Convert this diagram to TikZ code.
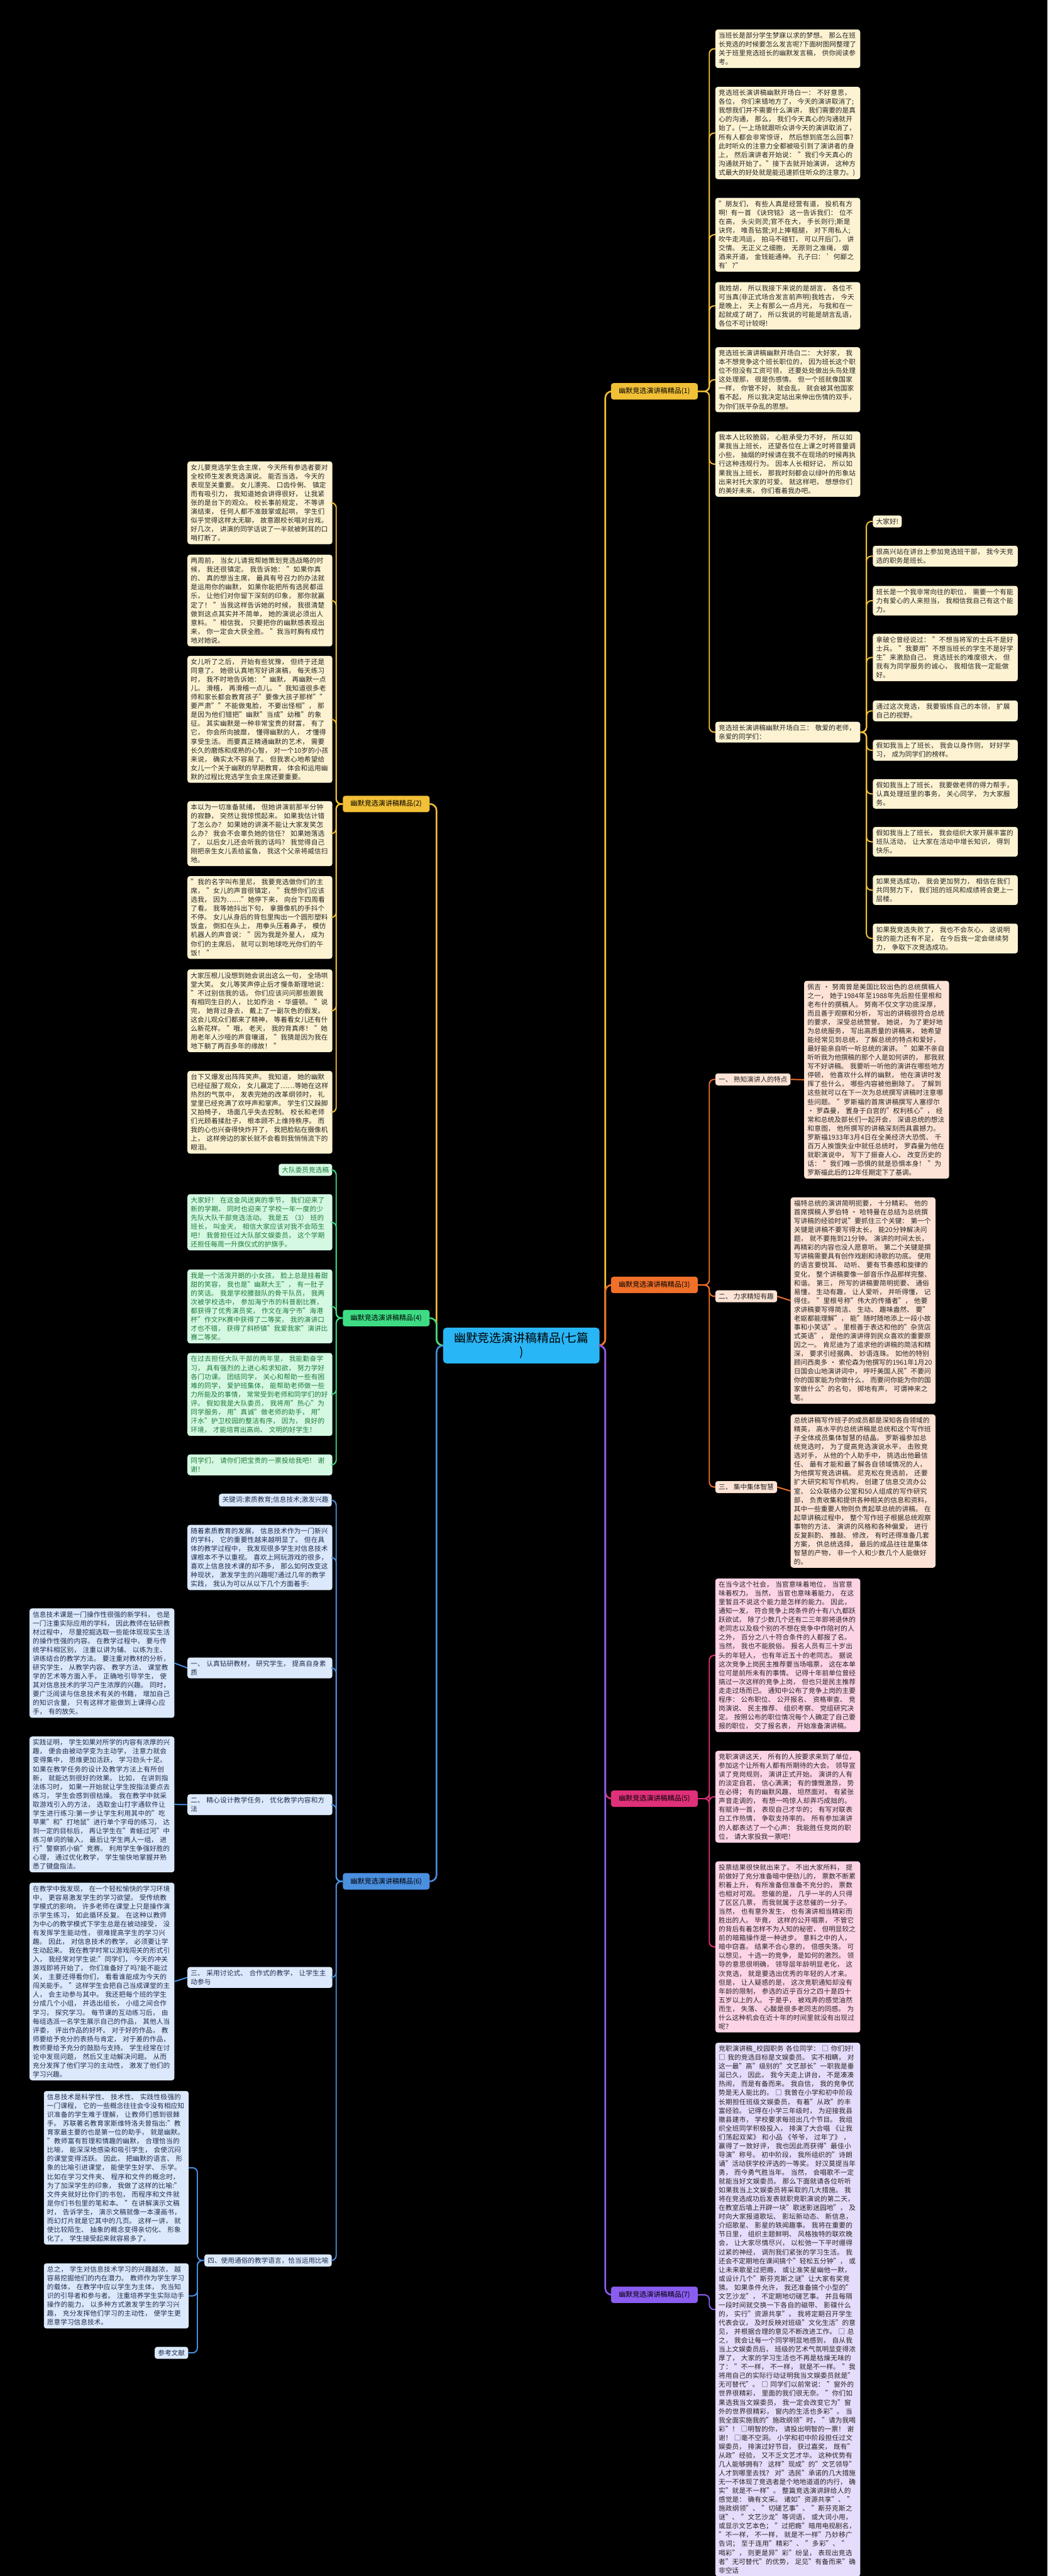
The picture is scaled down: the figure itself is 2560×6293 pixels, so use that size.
\documentclass[tikz,border=0pt]{standalone}
\usepackage{fontspec}
\setmainfont{Noto Sans CJK SC}
\XeTeXlinebreaklocale "zh"
\XeTeXlinebreakskip=0pt plus 1pt
\usepackage{xcolor}
\usetikzlibrary{positioning}

\definecolor{goldline}{HTML}{F2C037}
\definecolor{orangeline}{HTML}{F0702A}
\definecolor{greenline}{HTML}{3DDC84}
\definecolor{pinkline}{HTML}{E0307A}
\definecolor{blueline}{HTML}{4A8FE0}
\definecolor{purpleline}{HTML}{8A5CF0}
\definecolor{goldfill}{HTML}{FDF3D2}
\definecolor{orangefill}{HTML}{FDE3D5}
\definecolor{greenfill}{HTML}{D5F8E2}
\definecolor{pinkfill}{HTML}{FDD3E6}
\definecolor{bluefill}{HTML}{DCE9FC}
\definecolor{purplefill}{HTML}{E6DCFB}
\definecolor{greentext}{HTML}{1E7A3C}
\definecolor{bluetext}{HTML}{1F2D4D}
\definecolor{hubfill}{HTML}{29B6F6}

\begin{document}
\begin{tikzpicture}[x=1pt, y=-1pt,
  leaf/.style={rectangle, rounded corners=6pt, anchor=north west, text width=338pt,
               inner xsep=8pt, inner ysep=7pt, align=left,
               font=\fontsize{16.4}{21.6}\selectfont, text=black!85},
  tag/.style={rectangle, rounded corners=6pt, inner xsep=8pt, inner ysep=7pt,
              font=\fontsize{16.4}{21.6}\selectfont, text=black!85},
  branch/.style={rectangle, rounded corners=6pt, minimum width=212pt, minimum height=40pt,
                 font=\fontsize{17}{20}\selectfont},
  hub/.style={rectangle, rounded corners=8pt, minimum width=382pt, minimum height=87pt,
              align=center, fill=hubfill, font=\fontsize{29}{34}\selectfont},
  link/.style={line width=3pt, rounded corners=12pt},
  mainlink/.style={line width=4pt, rounded corners=16pt}
]
\fill[black] (0,0) rectangle (2560,6293);
\useasboundingbox (0,0) rectangle (2560,6293);

% centre and first level
\node[hub] (center) at (1274,3287) {幽默竞选演讲稿精品(七篇\\)};
\node[branch, fill=goldline, anchor=west] (part1) at (1493,956) {幽默竞选演讲稿精品(1)};
\node[branch, fill=orangeline, anchor=west] (part3) at (1493,3139) {幽默竞选演讲稿精品(3)};
\node[branch, fill=pinkline, anchor=west] (part5) at (1493,4394) {幽默竞选演讲稿精品(5)};
\node[branch, fill=purpleline, anchor=west] (part7) at (1493,5606) {幽默竞选演讲稿精品(7)};
\node[branch, fill=goldline, anchor=east] (part2) at (1050,1964) {幽默竞选演讲稿精品(2)};
\node[branch, fill=greenline, anchor=east] (part4) at (1050,3220) {幽默竞选演讲稿精品(4)};
\node[branch, fill=blueline, anchor=east] (part6) at (1050,4596) {幽默竞选演讲稿精品(6)};

\draw[mainlink, goldline] (center.east) -- ++(14,0) |- (part1.west);
\draw[mainlink, orangeline] (center.east) -- ++(14,0) |- (part3.west);
\draw[mainlink, pinkline] (center.east) -- ++(14,0) |- (part5.west);
\draw[mainlink, purpleline] (center.east) -- ++(14,0) |- (part7.west);
\draw[mainlink, goldline] (center.west) -- ++(-16,0) |- (part2.east);
\draw[mainlink, greenline] (center.west) -- ++(-16,0) |- (part4.east);
\draw[mainlink, blueline] (center.west) -- ++(-16,0) |- (part6.east);

% part 1
\node[leaf, fill=goldfill] (intro) at (1748,72) {当班长是部分学生梦寐以求的梦想。 那么在班长竞选的时候要怎么发言呢?下面树图网整理了关于班里竞选班长的幽默发言稿， 供你阅读参考。};
\node[leaf, fill=goldfill] (opening1) at (1748,212) {竞选班长演讲稿幽默开场白一： 不好意思， 各位， 你们来错地方了， 今天的演讲取消了;我想我们并不需要什么演讲， 我们需要的是真心的沟通， 那么， 我们今天真心的沟通就开始了。(一上场就跟听众讲今天的演讲取消了， 所有人都会非常惊讶， 然后想到底怎么回事?此时听众的注意力全都被吸引到了演讲者的身上， 然后演讲者开始说： "我们今天真心的沟通就开始了。"接下去就开始演讲， 这种方式最大的好处就是能迅速抓住听众的注意力。)};
\node[leaf, fill=goldfill] (friends) at (1748,483) {"朋友们， 有些人真是经营有道， 投机有方啊! 有一首 《诀窍铭》 这一告诉我们： 位不在高， 头尖则灵;官不在大， 手长则行;斯是诀窍， 唯吾钻营;对上捧粗腿， 对下用私人;吹牛走鸿运， 拍马不碰钉， 可以开后门， 讲交情。 无正义之细胞， 无原则之准绳， 烟酒来开道， 金钱能通神。 孔子曰： '何鄙之有'?"};
\node[leaf, fill=goldfill] (surname) at (1748,689) {我姓胡， 所以我接下来说的是胡言， 各位不可当真(非正式场合发言前声明)我姓古， 今天是晚上， 天上有那么一点月光， 与我和在一起就成了胡了， 所以我说的可能是胡言乱语， 各位不可计较呀!};
\node[leaf, fill=goldfill] (opening2) at (1748,848) {竞选班长演讲稿幽默开场白二： 大好家， 我本不想竞争这个班长职位的， 因为班长这个职位不但没有工资可领， 还要处处做出头鸟处理这处理那， 很是伤感情。 但一个班就像国家一样， 你管不好， 就会乱， 就会被其他国家看不起， 所以我决定站出来伸出伤情的双手， 为你们抚平杂乱的思想。};
\node[leaf, fill=goldfill] (fragile) at (1748,1054) {我本人比较脆弱， 心脏承受力不好， 所以如果我当上班长， 还望各位在上课之时将音量调小些， 抽烟的时候请在我不在现场的时候再执行这种违规行为。 因本人长相好记， 所以如果我当上班长， 那我时刻都会以绿叶的形象站出来衬托大家的可爱。 就这样吧， 想想你们的美好未来， 你们看着我办吧。};
\node[leaf, fill=goldfill] (opening3) at (1748,1763) {竞选班长演讲稿幽默开场白三： 敬爱的老师， 亲爱的同学们：};

\node[tag, fill=goldfill, anchor=north west] (hello) at (2133,1259) {大家好!};
\node[leaf, fill=goldfill] (glad) at (2133,1333) {很高兴站在讲台上参加竞选班干部， 我今天竞选的职务是班长。};
\node[leaf, fill=goldfill] (monitor) at (2133,1431) {班长是一个我非常向往的职位， 需要一个有能力有爱心的人来担当， 我相信我自己有这个能力。};
\node[leaf, fill=goldfill] (napoleon) at (2133,1548) {拿破仑曾经说过： "不想当将军的士兵不是好士兵。 "我要用"不想当班长的学生不是好学生"来激励自己， 竞选班长的难度很大， 但我有为同学服务的诚心， 我相信我一定能做好。};
\node[leaf, fill=goldfill] (train) at (2133,1711) {通过这次竞选， 我要锻炼自己的本领， 扩展自己的视野。};
\node[leaf, fill=goldfill] (ifa) at (2133,1807) {假如我当上了班长， 我会以身作则， 好好学习， 成为同学们的榜样。};
\node[leaf, fill=goldfill] (ifb) at (2133,1903) {假如我当上了班长， 我要做老师的得力帮手， 认真处理班里的事务， 关心同学， 为大家服务。};
\node[leaf, fill=goldfill] (ifc) at (2133,2020) {假如我当上了班长， 我会组织大家开展丰富的班队活动， 让大家在活动中增长知识， 得到快乐。};
\node[leaf, fill=goldfill] (win) at (2133,2138) {如果竞选成功， 我会更加努力， 相信在我们共同努力下， 我们班的班风和成绩将会更上一层楼。};
\node[leaf, fill=goldfill] (lose) at (2133,2256) {如果我竞选失败了， 我也不会灰心， 这说明我的能力还有不足， 在今后我一定会继续努力， 争取下次竞选成功。};

\draw[link, goldline] (part1.east) -- ++(28,0) |- (intro.west);
\draw[link, goldline] (part1.east) -- ++(28,0) |- (opening1.west);
\draw[link, goldline] (part1.east) -- ++(28,0) |- (friends.west);
\draw[link, goldline] (part1.east) -- ++(28,0) |- (surname.west);
\draw[link, goldline] (part1.east) -- ++(28,0) |- (opening2.west);
\draw[link, goldline] (part1.east) -- ++(28,0) |- (fragile.west);
\draw[link, goldline] (part1.east) -- ++(28,0) |- (opening3.west);
\draw[link, goldline] (opening3.east) -- ++(15,0) |- (hello.west);
\draw[link, goldline] (opening3.east) -- ++(15,0) |- (glad.west);
\draw[link, goldline] (opening3.east) -- ++(15,0) |- (monitor.west);
\draw[link, goldline] (opening3.east) -- ++(15,0) |- (napoleon.west);
\draw[link, goldline] (opening3.east) -- ++(15,0) |- (train.west);
\draw[link, goldline] (opening3.east) -- ++(15,0) |- (ifa.west);
\draw[link, goldline] (opening3.east) -- ++(15,0) |- (ifb.west);
\draw[link, goldline] (opening3.east) -- ++(15,0) |- (ifc.west);
\draw[link, goldline] (opening3.east) -- ++(15,0) |- (win.west);
\draw[link, goldline] (opening3.east) -- ++(15,0) |- (lose.west);

% part 3
\node[tag, fill=orangefill, anchor=north west] (trait) at (1748,2622) {一、 熟知演讲人的特点};
\node[tag, fill=orangefill, anchor=north west] (brief) at (1748,3152) {二、 力求精短有趣};
\node[tag, fill=orangefill, anchor=north west] (team) at (1748,3618) {三、 集中集体智慧};
\node[leaf, fill=orangefill] (noonan) at (1965,2396) {佩吉 · 努南曾是美国比较出色的总统撰稿人之一， 她于1984年至1988年先后担任里根和老布什的撰稿人。 努南不仅文字功底深厚， 而且善于观察和分析， 写出的讲稿很符合总统的要求， 深受总统赞誉。 她说， 为了更好地为总统服务， 写出高质量的讲稿来， 她希望能经常见到总统， 了解总统的特点和爱好， 最好能亲自听一听总统的演讲。 "如果不亲自听听我为他撰稿的那个人是如何讲的， 那我就写不好讲稿。 我要听一听他的演讲在哪些地方停顿， 他喜欢什么样的幽默， 他在演讲时发挥了些什么， 哪些内容被他删除了。 了解到这些就可以在下一次为总统撰写讲稿时注意哪些问题。 "罗斯福的首席讲稿撰写人塞缪尔 · 罗森曼， 置身于白宫的"权利核心"， 经常和总统及部长们一起开会， 深谙总统的想法和意图， 他所撰写的讲稿深刻而具震撼力。 罗斯福1933年3月4日在全美经济大恐慌、 千百万人挨饿失业中就任总统时， 罗森曼为他在就职演说中， 写下了振奋人心、 改变历史的话： "我们唯一恐惧的就是恐惧本身！ "为罗斯福此后的12年任期定下了基调。};
\node[leaf, fill=orangefill] (ford) at (1932,2925) {福特总统的演讲简明扼要， 十分精彩。 他的首席撰稿人罗伯特 · 哈特曼在总结为总统撰写讲稿的经验时说"要抓住三个关键： 第一个关键是讲稿不要写得太长， 能20分钟解决问题， 就不要拖到21分钟。 演讲的时间太长， 再精彩的内容也没人愿意听。 第二个关键是撰写讲稿需要具有创作戏剧和诗歌的功底。 使用的语言要悦耳、 动听、 要有节奏感和旋律的变化， 整个讲稿要像一部音乐作品那样完整、 和谐。 第三， 所写的讲稿要简明扼要、 通俗易懂， 生动有趣， 让人爱听， 并听得懂， 记得住。 "里根号称"伟大的传播者"， 他要求讲稿要写得简洁、 生动、 趣味盎然、 要"老妪都能理解"， 能"随时随地添上一段小故事和小笑话"。 里根善于表达和他的"杂货店式英语"， 是他的演讲得到民众喜欢的重要原因之一。 肯尼迪为了追求他的讲稿的简洁和精深， 要求引经据典、 妙语连珠。 如他的特别顾问西奥多 · 索伦森为他撰写的1961年1月20日国会山地演讲词中， 呼吁美国人民"不要问你的国家能为你做什么， 而要问你能为你的国家做什么"的名句， 掷地有声， 可谓神来之笔。};
\node[leaf, fill=orangefill] (writers) at (1932,3455) {总统讲稿写作班子的成员都是深知各自领域的精英， 高水平的总统讲稿是总统和这个写作班子全体成员集体智慧的结晶。 罗斯福参加总统竞选时， 为了提高竞选演说水平， 击败竞选对手， 从他的个人助手中， 挑选出他最信任、 最有才能和最了解各自领域情况的人， 为他撰写竞选讲稿。 尼克松在竞选前， 还要扩大研究和写作机构， 创建了信息交流办公室、 公众联络办公室和50人组成的写作研究部， 负责收集和提供各种相关的信息和资料， 其中一些重要人物则负责起草总统的讲稿。 在起草讲稿过程中， 整个写作班子根据总统观察事物的方法、 演讲的风格和各种偏爱， 进行反复斟酌、 推敲、 修改， 有时还得准备几套方案， 供总统选择， 最后的成品往往是集体智慧的产物， 非一个人和少数几个人能做好的。};

\draw[link, orangeline] (part3.east) -- ++(28,0) |- (trait.west);
\draw[link, orangeline] (part3.east) -- ++(28,0) |- (brief.west);
\draw[link, orangeline] (part3.east) -- ++(28,0) |- (team.west);
\draw[link, orangeline] (trait.east) -- (noonan.west);
\draw[link, orangeline] (brief.east) -- (ford.west);
\draw[link, orangeline] (team.east) -- (writers.west);

% part 5
\node[leaf, fill=pinkfill] (society) at (1748,3856) {在当今这个社会， 当官意味着地位， 当官意味着权力。 当然， 当官也意味着能力， 在这里暂且不说这个能力是怎样的能力。 因此， 通知一发， 符合竞争上岗条件的十有八九都跃跃欲试， 除了少数几个还有二三年即将退休的老同志以及极个别的不想在竞争中作陪衬的人之外， 百分之八十符合条件的人都报了名。 当然， 我也不能脱俗。 报名人员有三十岁出头的年轻人， 也有年近五十的老同志。 据说这次竞争上岗民主推荐要当场唱票， 这在本单位可是前所未有的事情。 记得十年前单位曾经搞过一次这样的竞争上岗， 但也只是民主推荐走走过场而已。 通知中公布了竞争上岗的主要程序： 公布职位、 公开报名、 资格审查、 竞岗演说、 民主推荐、 组织考察、 党组研究决定。 按照公布的职位情况每个人确定了自己要报的职位， 交了报名表， 开始准备演讲稿。};
\node[leaf, fill=pinkfill] (speechday) at (1748,4277) {竞职演讲这天， 所有的人按要求来到了单位， 参加这个让所有人都有所期待的大会。 领导宣读了竞岗规则， 演讲正式开始。 演讲的人有的淡定自若， 信心满满； 有的慷慨激昂， 势在必得； 有的幽默风趣， 坦然面对。 有紧张声音走调的， 有想一鸣惊人却弄巧成拙的。 有赋诗一首， 表现自己才华的； 有写对联表白工作热情， 争取支持率的。 所有参加演讲的人都表达了一个心声： 我能胜任竞岗的职位， 请大家投我一票吧！};
\node[leaf, fill=pinkfill] (result) at (1748,4547) {投票结果很快就出来了。 不出大家所料， 提前做好了充分准备暗中使劲儿的， 票数不断累积着上升， 有所准备但准备不充分的， 票数也相对可观。 悲催的是， 几乎一半的人只得了区区几票， 而我就属于这悲催的一分子。 当然， 也有意外发生， 也有演讲相当精彩而胜出的人。 毕竟， 这样的公开唱票， 不管它的背后有着怎样不为人知的秘密， 但明显较之前的暗箱操作是一种进步。 意料之中的人， 暗中窃喜。 结果不合心意的， 倍感失落。 可以想见， 十选一的竞争， 是如何的激烈。 领导的意思很明确， 领导层年龄明显老化， 这次竞选， 就是要选出优秀的年轻的人才来。 但是， 让人疑惑的是， 这次竞职通知却没有年龄的限制， 参选的近乎百分之四十是四十五岁以上的人。 于是乎， 被戏弄的感觉油然而生， 失落、 心酸是很多老同志的同感。 为什么这种机会在近十年的时间里就没有出现过呢？};

\draw[link, pinkline] (part5.east) -- ++(28,0) |- (society.west);
\draw[link, pinkline] (part5.east) -- ++(28,0) |- (speechday.west);
\draw[link, pinkline] (part5.east) -- ++(28,0) |- (result.west);

% part 7
\node[leaf, fill=purplefill] (campus) at (1748,4990) {竞职演讲稿\_校园职务 各位同学： □ 你们好!□ 我的竞选目标是文娱委员。 实不相瞒， 对这一最"高"级别的"文艺部长"一职我是垂涎已久， 因此， 我今天走上讲台， 不是凑凑热闹， 而是有备而来。 我自信， 我的竞争优势是无人能比的。 □ 我曾在小学和初中阶段长期担任班级文娱委员， 有着"从政"的丰富经验。 记得在小学三年级时， 为迎接我县撤县建市， 学校要求每班出几个节目。 我组织全班同学积极投入， 排演了大合唱 《让我们荡起双桨》 和小品 《爷爷， 过年了》 ， 赢得了一致好评， 我也因此而获得"最佳小导演"称号。 初中阶段， 我所组织的"诗朗诵"活动获学校评选的一等奖。 好汉莫提当年勇， 而今勇气胜当年。 当然， 会唱歌不一定就能当好文娱委员。 那么下面就请各位听听如果我当上文娱委员将采取的几大措施。 我将在竞选成功后发表就职竞职演说的第二天， 在教室后墙上开辟一块"歌迷影迷园地"， 及时向大家报道歌坛、 影坛新动态、 新信息， 介绍歌星、 影星的轶闻趣事。 我将在重要的节日里， 组织主题鲜明、 风格独特的联欢晚会， 让大家尽情尽兴， 以松弛一下平时绷得过紧的神经， 调剂我们紧张的学习生活。 我还会不定期地在课间搞个"轻松五分钟"， 或让未来歌星过把瘾， 或让准笑星幽他一默， 或设计几个"斯芬克斯之谜"让大家有奖竞猜。 如果条件允许， 我还准备搞个小型的"文艺沙龙"， 不定期地切磋艺事。 并且每隔一段时间就交换一下各自的磁带、 影碟什么的， 实行"资源共享"。 我将定期召开学生代表会议， 及时反映对班级"文化生活"的意见， 并根据合理的意见不断改进工作。 □ 总之， 我会让每一个同学明显地感到， 自从我当上文娱委员后， 班级的艺术气氛明显变得浓厚了， 大家的学习生活也不再是枯燥无味的了： "不一样， 不一样， 就是不一样。 "我将用自己的实际行动证明我当文娱委员就是"无可替代"。 □ 同学们以前常说： "窗外的世界很精彩， 里面的我们很无奈。 "你们如果选我当文娱委员， 我一定会改变它为"窗外的世界很精彩， 窗内的生活也多彩"。 当我全面实施我的"施政纲领"时， "请为我喝彩"！ □明智的你， 请投出明智的一票！ 谢谢！ □毫不空洞。 小学和初中阶段担任过文娱委员， 排演过好节目， 获过嘉奖， 既有"从政"经验， 又不乏文艺才华。 这种优势有几人能够拥有？ 这样"现成"的"文艺领导"人才到哪里去找？ 对"选民"承诺的几大措施无一不体现了竞选者是个地地道道的内行， 确实"就是不一样"。 整篇竞选演讲辞给人的感觉是： 确有文采。 诸如"资源共享"、 "施政纲领"、 "切磋艺事"、 "斯芬克斯之谜"、 "文艺沙龙"等词语， 或大词小用， 或显示文艺本色； "过把瘾"暗用电视剧名， "不一样， 不一样， 就是不一样"乃妙移广告词； 至于连用"精彩"、 "多彩"、 "喝彩"， 则更是异"彩"纷呈， 表现出竞选者"无可替代"的优势， 足见"有备而来"确非空话};

\draw[link, purpleline] (part7.east) -- ++(28,0) |- (campus.west);

% part 2
\node[leaf, fill=goldfill] (daughter) at (458,1127) {女儿要竞选学生会主席， 今天所有参选者要对全校师生发表竞选演说。 能否当选， 今天的表现至关重要。 女儿漂亮、 口齿伶俐、 镇定而有吸引力， 我知道她会讲得很好， 让我紧张的是台下的观众。 校长事前规定， 不等讲演结束， 任何人都不准鼓掌或起哄， 学生们似乎觉得这样太无聊， 故意跟校长唱对台戏。 好几次， 讲演的同学话说了一半就被刺耳的口哨打断了。};
\node[leaf, fill=goldfill] (twoweeks) at (458,1355) {两周前， 当女儿请我帮她策划竞选战略的时候， 我还很镇定。 我告诉她： "如果你真的、 真的想当主席， 最具有号召力的办法就是运用你的幽默， 如果你能把所有选民都逗乐， 让他们对你留下深刻的印象， 那你就赢定了！ "当我这样告诉她的时候， 我很清楚做到这点其实并不简单， 她的演说必须出人意料。 "相信我， 只要把你的幽默感表现出来， 你一定会大获全胜。 "我当时胸有成竹地对她说。};
\node[leaf, fill=goldfill] (practice) at (458,1602) {女儿听了之后， 开始有些犹豫， 但终于还是同意了。 她很认真地写好讲演稿， 每天练习时， 我不时地告诉她： "幽默， 再幽默一点儿。 滑稽， 再滑稽一点儿。 "我知道很多老师和家长都会教育孩子"要像大孩子那样""要严肃""不能做鬼脸， 不要出怪相"， 那是因为他们错把"幽默"当成"幼稚"的象征。 其实幽默是一种非常宝贵的财富， 有了它， 你会所向披靡， 懂得幽默的人， 才懂得享受生活。 而要真正精通幽默的艺术， 需要长久的磨炼和成熟的心智， 对一个10岁的小孩来说， 确实太不容易了。 但我衷心地希望给女儿一个关于幽默的早期教育， 体会和运用幽默的过程比竞选学生会主席还要重要。};
\node[leaf, fill=goldfill] (silence) at (458,1957) {本以为一切准备就绪， 但她讲演前那半分钟的寂静， 突然让我惊慌起来。 如果我估计错了怎么办？ 如果她的讲演不能让大家发笑怎么办？ 我会不会辜负她的信任？ 如果她落选了， 以后女儿还会听我的话吗？ 我觉得自己刚把亲生女儿丢给鲨鱼， 我这个父亲将威信扫地。};
\node[leaf, fill=goldfill] (alien) at (458,2140) {"我的名字叫布里尼， 我要竞选做你们的主席， "女儿的声音很镇定， "我想你们应该选我， 因为……"她停下来， 向台下四周看了看。 我等她抖出下句， 拿摄像机的手抖个不停。 女儿从身后的背包里掏出一个圆形塑料饭盒， 倒扣在头上， 用拳头压着鼻子， 模仿机器人的声音说： "因为我是外星人， 成为你们的主席后， 就可以到地球吃光你们的午饭！ "};
\node[leaf, fill=goldfill] (washington) at (458,2368) {大家压根儿没想到她会说出这么一句， 全场哄堂大笑。 女儿等笑声停止后才慢条斯理地说： "不过别信我的话。 你们应该问问那些跟我有相同生日的人， 比如乔治 · 华盛顿。 "说完， 她背过身去， 戴上了一副灰色的假发。 这会儿观众们都来了精神， 等着看女儿还有什么新花样。 "哦， 老天， 我的背真疼！ "她用老年人沙哑的声音嚷道， "我猜是因为我在地下躺了两百多年的缘故！ "};
\node[leaf, fill=goldfill] (applause) at (458,2616) {台下又爆发出阵阵笑声。 我知道， 她的幽默已经征服了观众， 女儿赢定了……等她在这样热烈的气氛中， 发表完她的改革纲领时， 礼堂里已经充满了欢呼声和掌声。 学生们又跺脚又拍椅子， 场面几乎失去控制。 校长和老师们光顾着揉肚子， 根本顾不上维持秩序。 而我的心也兴奋得快炸开了， 我把脸贴在摄像机上， 这样旁边的家长就不会看到我悄悄流下的眼泪。};

\draw[link, goldline] (part2.west) -- ++(-16,0) |- (daughter.east);
\draw[link, goldline] (part2.west) -- ++(-16,0) |- (twoweeks.east);
\draw[link, goldline] (part2.west) -- ++(-16,0) |- (practice.east);
\draw[link, goldline] (part2.west) -- ++(-16,0) |- (silence.east);
\draw[link, goldline] (part2.west) -- ++(-16,0) |- (alien.east);
\draw[link, goldline] (part2.west) -- ++(-16,0) |- (washington.east);
\draw[link, goldline] (part2.west) -- ++(-16,0) |- (applause.east);

% part 4
\node[tag, fill=greenfill, text=greentext, anchor=north east] (squad) at (812,2843) {大队委员竞选稿};
\node[leaf, fill=greenfill, text=greentext] (jintian) at (458,2917) {大家好！ 在这金风送爽的季节， 我们迎来了新的学期， 同时也迎来了学校一年一度的少先队大队干部竞选活动。 我是五 （3） 班的班长， 叫金天， 相信大家应该对我不会陌生吧！ 我曾担任过大队部文娱委员， 这个学期还担任每周一升旗仪式的护旗手。};
\node[leaf, fill=greenfill, text=greentext] (cheerful) at (458,3101) {我是一个活泼开朗的小女孩， 脸上总是挂着甜甜的笑容， 我也是"幽默大王"， 有一肚子的笑话。 我是学校腰鼓队的骨干队员， 我两次被学校选中， 参加海宁市的科普剧比赛， 都获得了优秀演员奖， 作文在海宁市"海港杯"作文PK赛中获得了二等奖， 我的演讲口才也不错， 获得了斜桥镇"我爱我家"演讲比赛二等奖。};
\node[leaf, fill=greenfill, text=greentext] (pasttwo) at (458,3305) {在过去担任大队干部的两年里， 我能勤奋学习， 具有强烈的上进心和求知欲， 努力学好各门功课。 团结同学， 关心和帮助一些有困难的同学， 爱护班集体， 能帮助老师做一些力所能及的事情， 常常受到老师和同学们的好评。 假如我是大队委员， 我将用"热心"为同学服务， 用"真诚"做老师的助手， 用"汗水"护卫校园的整洁有序， 因为， 良好的环境， 才能培育出高尚、 文明的好学生！};
\node[leaf, fill=greenfill, text=greentext] (vote) at (458,3553) {同学们， 请你们把宝贵的一票投给我吧！ 谢谢！};

\draw[link, greenline] (part4.west) -- ++(-16,0) |- (squad.east);
\draw[link, greenline] (part4.west) -- ++(-16,0) |- (jintian.east);
\draw[link, greenline] (part4.west) -- ++(-16,0) |- (cheerful.east);
\draw[link, greenline] (part4.west) -- ++(-16,0) |- (pasttwo.east);
\draw[link, greenline] (part4.west) -- ++(-16,0) |- (vote.east);

% part 6
\node[tag, fill=bluefill, text=bluetext, anchor=north east] (keywords) at (811,3649) {关键词:素质教育;信息技术;激发兴趣};
\node[leaf, fill=bluefill, text=bluetext] (itintro) at (458,3725) {随着素质教育的发展， 信息技术作为一门新兴的学科， 它的重要性越来越明显了。 但在具体的教学过程中， 我发现很多学生对信息技术课根本不予以重视。 喜欢上网玩游戏的很多， 喜欢上信息技术课的却不多， 那么如何改变这种现状， 激发学生的兴趣呢?通过几年的教学实践， 我认为可以从以下几个方面着手:};
\node[leaf, fill=bluefill, text=bluetext] (stepone) at (458,4049) {一、 认真钻研教材， 研究学生， 提高自身素质};
\node[leaf, fill=bluefill, text=bluetext] (steptwo) at (458,4383) {二、 精心设计教学任务， 优化教学内容和方法};
\node[leaf, fill=bluefill, text=bluetext] (stepthree) at (458,4805) {三、 采用讨论式、 合作式的教学， 让学生主动参与};
\node[tag, fill=bluefill, text=bluetext, anchor=north east] (stepfour) at (811,5507) {四、使用通俗的教学语言，恰当运用比喻};
\node[leaf, fill=bluefill, text=bluetext] (textbook) at (72,3929) {信息技术课是一门操作性很强的新学科， 也是一门注重实际应用的学科， 因此教师在钻研教材过程中， 尽量挖掘选取一些能体现现实生活的操作性强的内容。 在教学过程中， 要与传统学科相区别， 注重以讲为辅、 以练为主、 讲练结合的教学方法。 要注重对教材的分析， 研究学生， 从教学内容、 教学方法、 课堂教学的艺术等方面入手， 正确地引导学生， 使其对信息技术的学习产生浓厚的兴趣。 同时， 要广泛阅读与信息技术有关的书籍， 增加自己的知识含量， 只有这样才能做到上课得心应手， 有的放矢。};
\node[leaf, fill=bluefill, text=bluetext] (typing) at (72,4242) {实践证明， 学生如果对所学的内容有浓厚的兴趣， 便会由被动学变为主动学， 注意力就会变得集中， 思维更加活跃， 学习劲头十足。 如果在教学任务的设计及教学方法上有所创新， 就能达到很好的效果。 比如， 在讲到指法练习时， 如果一开始就让学生按指法要点去练习， 学生会感到很枯燥。 我在教学中就采取游戏引入的方法， 选取金山打字通软件让学生进行练习:第一步让学生利用其中的"吃苹果"和"打地鼠"进行单个字母的练习， 达到一定的目标后， 再让学生在"青蛙过河"中练习单词的输入， 最后让学生两人一组， 进行"警察抓小偷"竞赛。 利用学生争强好胜的心理， 通过优化教学， 学生愉快地掌握并熟悉了键盘指法。};
\node[leaf, fill=bluefill, text=bluetext] (groups) at (72,4599) {在教学中我发现， 在一个轻松愉快的学习环境中， 更容易激发学生的学习欲望。 受传统教学模式的影响， 许多老师在课堂上只是操作演示学生练习， 如此循环反复。 在这种以教师为中心的教学模式下学生总是在被动接受， 没有发挥学生能动性， 很难提高学生的学习兴趣。 因此， 对信息技术的教学， 必须要让学生动起来。 我在教学时常以游戏闯关的形式引入， 我经常对学生说:"同学们， 今天的冲关游戏即将开始了， 你们准备好了吗?能不能过关， 主要还得看你们， 看看谁能成为今天的闯关能手。 "这样学生会把自己当成课堂的主人， 会主动参与其中。 我还把每个班的学生分成几个小组， 并选出组长， 小组之间合作学习， 探究学习。 每节课的互动练习后， 由每组选派一名学生展示自己的作品， 其他人当评委， 评出作品的好坏。 对于好的作品， 教师要给予充分的表扬与肯定， 对于差的作品， 教师要给予充分的鼓励与支持。 学生经常在讨论中发现问题， 然后又主动解决问题。 从而充分发挥了他们学习的主动性， 激发了他们的学习兴趣。};
\node[leaf, fill=bluefill, text=bluetext] (metaphor) at (107,5108) {信息技术是科学性、 技术性、 实践性极强的一门课程， 它的一些概念往往会令没有相应知识准备的学生难于理解， 让教师们感到很棘手。 苏联著名教育家斯维特洛夫曾指出:"教育家最主要的也是第一位的助手， 就是幽默。 "教师富有哲理和情趣的幽默， 合理恰当的比喻， 能深深地感染和吸引学生， 会使沉闷的课堂变得活跃。 因此， 把幽默的语言、 形象的比喻引进课堂， 能使学生好学、 乐学。 比如在学习文件夹、 程序和文件的概念时， 为了加深学生的印象， 我做了这样的比喻:"文件夹就好比你们的书包， 而程序和文件就是你们书包里的笔和本。 "在讲解演示文稿时， 告诉学生， 演示文稿就像一本漫画书， 而幻灯片就是它其中的几页。 这样一讲， 就使比较陌生、 抽象的概念变得亲切化、 形象化了。 学生接受起来就容易多了。};
\node[leaf, fill=bluefill, text=bluetext] (summary) at (107,5529) {总之， 学生对信息技术学习的兴趣越浓， 越容易挖掘他们的内在潜力。 教师作为学生学习的载体， 在教学中应以学生为主体， 充当知识的引导者和参与者。 注重培养学生实际动手操作的能力， 以多种方式激发学生的学习兴趣， 充分发挥他们学习的主动性， 使学生更愿意学习信息技术。};
\node[tag, fill=bluefill, text=bluetext, anchor=north east] (refs) at (460,5733) {参考文献};

\draw[link, blueline] (part6.west) -- ++(-16,0) |- (keywords.east);
\draw[link, blueline] (part6.west) -- ++(-16,0) |- (itintro.east);
\draw[link, blueline] (part6.west) -- ++(-16,0) |- (stepone.east);
\draw[link, blueline] (part6.west) -- ++(-16,0) |- (steptwo.east);
\draw[link, blueline] (part6.west) -- ++(-16,0) |- (stepthree.east);
\draw[link, blueline] (part6.west) -- ++(-16,0) |- (stepfour.east);
\draw[link, blueline] (stepone.west) -- (textbook.east);
\draw[link, blueline] (steptwo.west) -- (typing.east);
\draw[link, blueline] (stepthree.west) -- (groups.east);
\draw[link, blueline] (stepfour.west) -- ++(-17,0) |- (metaphor.east);
\draw[link, blueline] (stepfour.west) -- ++(-17,0) |- (summary.east);
\draw[link, blueline] (stepfour.west) -- ++(-17,0) |- (refs.east);
\end{tikzpicture}
\end{document}
